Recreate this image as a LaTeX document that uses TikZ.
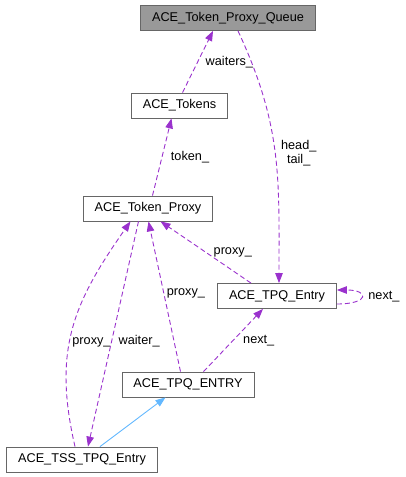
\documentclass[tikz,border=0pt]{standalone}
\usepackage{fontspec}
\setmainfont{Liberation Sans}
\usetikzlibrary{arrows.meta, positioning}
\definecolor{usepurple}{HTML}{9A32CD}
\definecolor{inhblue}{HTML}{63B8FF}
\definecolor{boxgray}{HTML}{666666}
\definecolor{focusgray}{HTML}{999999}

\begin{document}
\begin{tikzpicture}[
    x=1pt, y=-1pt,
    font=\fontsize{12.7}{14.5}\selectfont,
    cls/.style={draw=boxgray, line width=0.8pt, fill=white, minimum height=25pt, inner xsep=11.5pt, inner ysep=0pt},
    focus/.style={cls, fill=focusgray},
    usage/.style={color=usepurple, line width=0.9pt, dash pattern=on 5pt off 3pt, -{Triangle[length=10pt, width=7.5pt]}},
    inherit/.style={color=inhblue, line width=0.9pt, -{Triangle[length=10pt, width=7.5pt]}},
    lbl/.style={text=black, align=center, inner sep=2.5pt}
]
   \useasboundingbox (0,0) rectangle (405,477);

   % Classes
   \node[focus] (queue) at (228,18) {ACE\_Token\_Proxy\_Queue};
   \node[cls] (tokens) at (179.5,105.5) {ACE\_Tokens};
   \node[cls] (proxy) at (148,208.5) {ACE\_Token\_Proxy};
   \node[cls] (tpqentry) at (277,296) {ACE\_TPQ\_Entry};
   \node[cls] (tpqENTRY) at (188,384.5) {ACE\_TPQ\_ENTRY};
   \node[cls] (tssentry) at (82,459.5) {ACE\_TSS\_TPQ\_Entry};

   % Usage relations
   \path[usage]
   ([xshift=3pt]tokens.north) edge node[lbl, right=5pt] {waiters\_} ([xshift=-15pt]queue.south)
   ([xshift=10pt]queue.south) edge[out=-65, in=90, looseness=1.05] node[lbl, right=3pt, pos=0.5] {head\_\\tail\_} ([xshift=2pt]tpqentry.north)

   ([xshift=4.5pt]proxy.north) edge node[lbl, right=6pt] {token\_} ([xshift=-8pt]tokens.south)

   ([xshift=-26pt]tpqentry.north) edge node[lbl, right=5pt] {proxy\_} ([xshift=12.5pt]proxy.south)
   ([yshift=-8pt]tpqentry.east) edge[out=0, in=0, looseness=6] node[lbl, right=4pt] {next\_} ([yshift=6pt]tpqentry.east)

   ([xshift=15.5pt]tpqENTRY.north) edge node[lbl, right=7pt, pos=0.5] {next\_} ([xshift=-14pt]tpqentry.south)
   ([xshift=-7.5pt]tpqENTRY.north) edge node[lbl, right, pos=0.52] {proxy\_} ([xshift=0.5pt]proxy.south)

   ([xshift=-7pt]tssentry.north) edge[out=103, in=-125, looseness=1.1] node[lbl, right, pos=0.43] {proxy\_} ([xshift=-17.5pt]proxy.south)
   ([xshift=-9.5pt]proxy.south) edge node[lbl, right=4pt, pos=0.53] {waiter\_} ([xshift=6pt]tssentry.north);

   % Inheritance
   \draw[inherit] ([xshift=18pt]tssentry.north) -- ([xshift=-22.5pt]tpqENTRY.south);

\end{tikzpicture}
\end{document}
